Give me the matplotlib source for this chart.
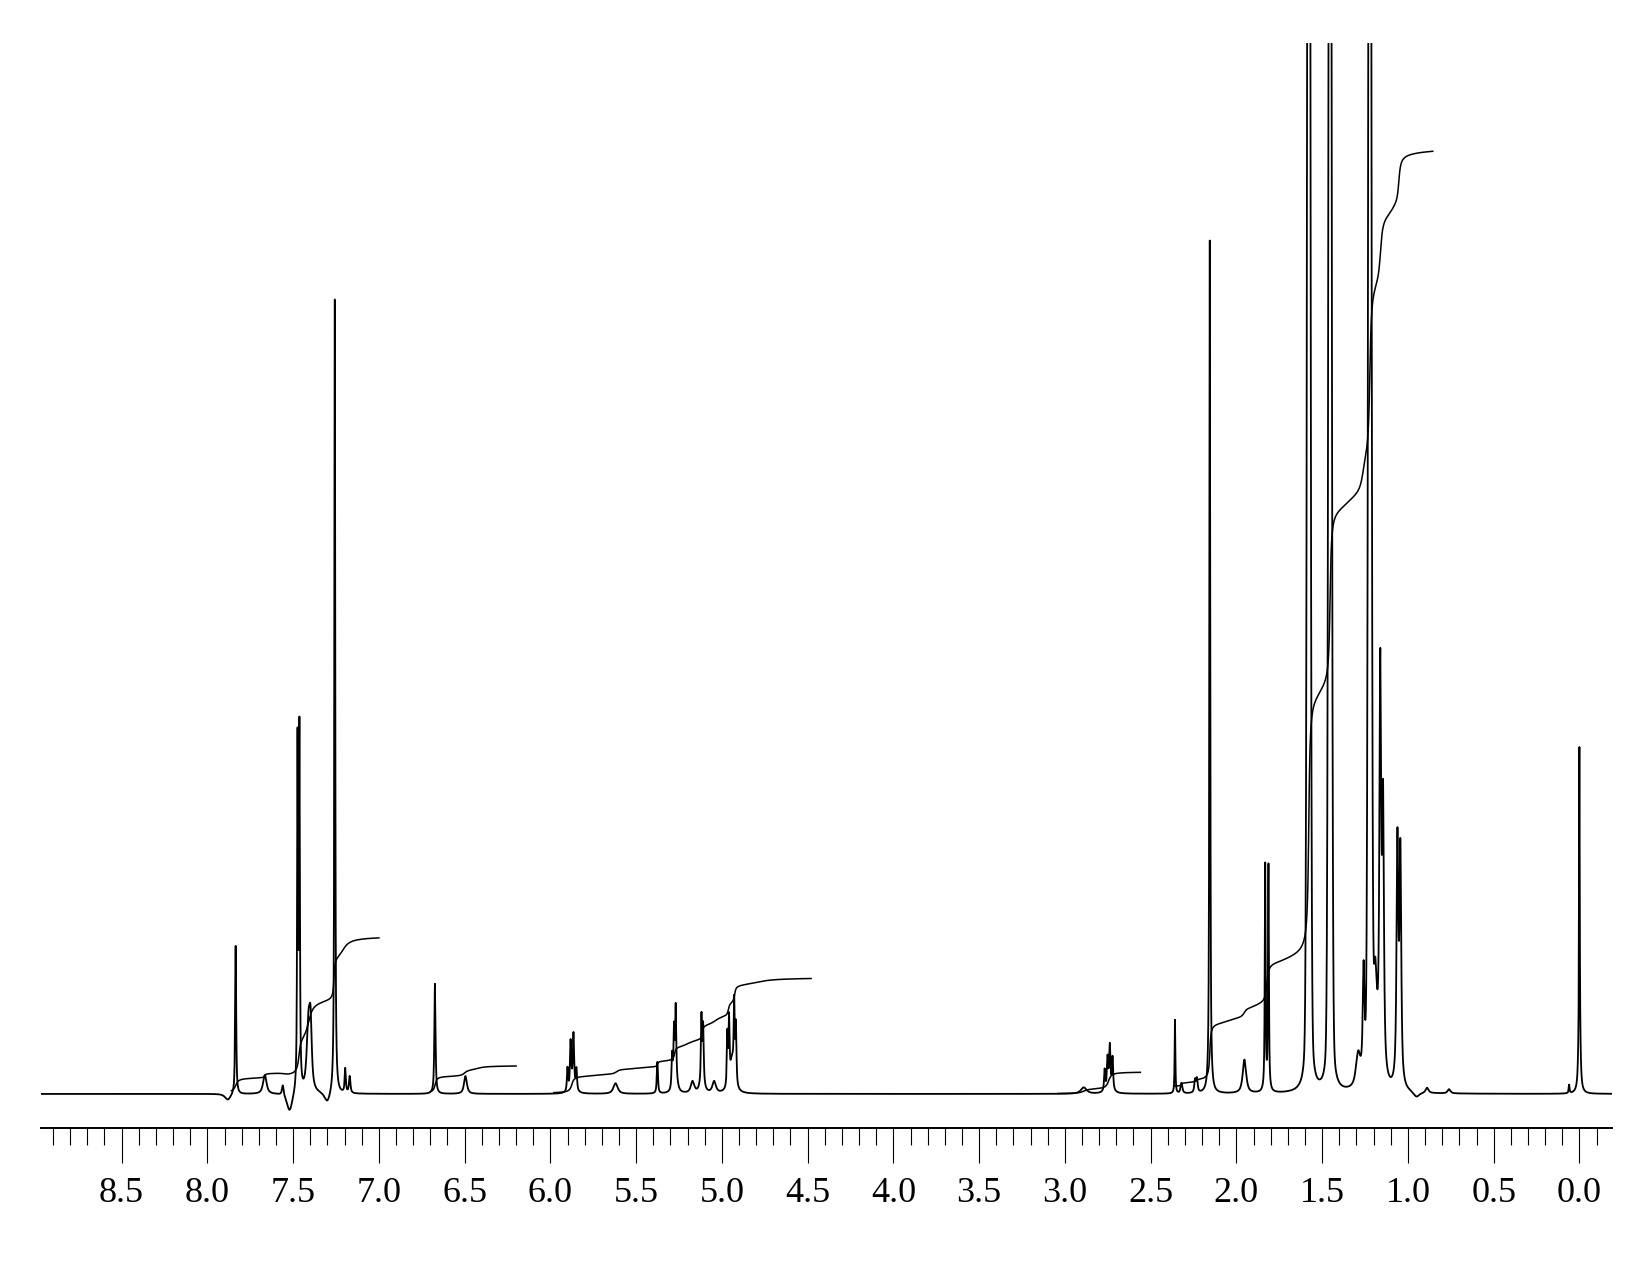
import numpy as np
import matplotlib
matplotlib.use('Agg')
import matplotlib.pyplot as plt
from matplotlib.ticker import MultipleLocator, FormatStrFormatter

# peaks: centre (ppm), height (100 = top of frame),
# half width at half height (ppm), lorentzian share of the line shape
peak_ppm = [7.88, 7.835, 7.665, 7.56, 7.52, 7.474, 7.463, 7.41, 7.398, 7.30, 7.257, 7.196, 7.17,
            6.673, 6.495,
            5.90, 5.882, 5.865, 5.848, 5.87, 5.62, 5.376, 5.29, 5.279, 5.269, 5.27, 5.171,
            5.119, 5.109, 5.115, 5.045, 4.968, 4.958, 4.928, 4.918, 4.94,
            2.89, 2.768, 2.751, 2.738, 2.722, 2.74, 2.358, 2.32, 2.241, 2.23, 2.155, 1.953,
            1.832, 1.813, 1.578, 1.454, 1.29, 1.258, 1.222, 1.19, 1.161, 1.145, 1.061, 1.044,
            0.95, 0.888, 0.76, 0.06, 0.0, 0.0]
peak_height = [-0.6, 14.2, 1.8, 1.0, -1.8, 33.0, 34.0, 6.5, 5.0, -1.0, 76.0, 2.3, 1.6,
               10.5, 1.7,
               2.2, 4.3, 4.7, 2.0, 1.0, 1.0, 3.0, 3.2, 5.0, 6.6, 1.5, 1.1,
               5.8, 5.0, 1.6, 1.1, 5.0, 6.0, 7.0, 5.5, 3.0,
               0.6, 2.0, 2.8, 3.8, 3.0, 0.7, 7.0, 1.0, 1.2, 1.3, 81.5, 3.2,
               21.5, 21.5, 220.0, 200.0, 3.0, 10.0, 200.0, 9.0, 38.0, 25.0, 23.0, 22.0,
               -0.5, 0.5, 0.4, 0.8, 25.0, 8.0]
peak_hwhm = [0.02, 0.0035, 0.012, 0.006, 0.02, 0.003, 0.003, 0.012, 0.008, 0.02, 0.003, 0.004, 0.005,
             0.004, 0.01,
             0.004, 0.004, 0.004, 0.004, 0.015, 0.015, 0.004, 0.004, 0.0035, 0.0035, 0.012, 0.012,
             0.0035, 0.0035, 0.012, 0.012, 0.0035, 0.0035, 0.0035, 0.0035, 0.015,
             0.02, 0.004, 0.004, 0.004, 0.004, 0.02, 0.0025, 0.006, 0.005, 0.005, 0.003, 0.012,
             0.003, 0.003, 0.009, 0.009, 0.015, 0.006, 0.009, 0.012, 0.006, 0.006, 0.006, 0.006,
             0.02, 0.01, 0.01, 0.003, 0.002, 0.006]
peak_lorentz = [0.8] * 50 + [0.15, 0.15, 0.8, 0.8, 0.15] + [0.8] * 11

# integral regions and the steps drawn in them
integral_from = [7.86, 6.70, 5.98, 3.04, 2.365]
integral_to = [7.00, 6.20, 4.48, 2.56, 0.855]
integral_base = [0.0, 0.05, 0.0, 0.0, 0.4]
step_region = [0, 0, 0, 0, 0, 0, 0,
               1, 1, 1,
               2, 2, 2, 2, 2, 2, 2, 2, 2, 2, 2, 2,
               3, 3,
               4, 4, 4, 4, 4, 4, 4, 4, 4, 4, 4, 4, 4, 4, 4, 4, 4]
step_ppm = [7.835, 7.665, 7.55, 7.466, 7.41, 7.262, 7.21,
            6.672, 6.50, 6.43,
            5.875, 5.75, 5.615, 5.50, 5.376, 5.276, 5.20, 5.114, 5.04, 4.962, 4.926, 4.80,
            2.89, 2.745,
            2.32, 2.24, 2.155, 2.05, 1.955, 1.88, 1.822, 1.70, 1.578, 1.50, 1.454, 1.35, 1.262,
            1.222, 1.16, 1.09, 1.053]
step_rise = [1.4, 0.4, -0.45, 3.5, 4.0, 4.0, 2.2,
             1.6, 0.6, 0.45,
             1.6, 0.2, 0.5, 0.15, 0.55, 1.3, 0.8, 1.4, 0.9, 1.3, 1.7, 0.7,
             0.45, 1.65,
             0.3, 0.2, 5.4, 0.6, 0.9, 0.4, 3.9, 0.5, 25.3, 0.8, 17.2, 0.8, 3.5,
             17.5, 6.8, 0.8, 4.9]
step_width = [0.012, 0.005, 0.03, 0.008, 0.02, 0.004, 0.03,
              0.008, 0.015, 0.04,
              0.01, 0.06, 0.015, 0.05, 0.005, 0.006, 0.04, 0.005, 0.03, 0.006, 0.006, 0.08,
              0.02, 0.012,
              0.005, 0.005, 0.005, 0.06, 0.012, 0.04, 0.008, 0.06, 0.006, 0.03, 0.006, 0.04, 0.015,
              0.007, 0.01, 0.02, 0.008]


def line_shape(ppm, centre, height, hwhm, eta):
    u = (ppm - centre) / hwhm
    return height * (eta / (1 + u ** 2) + (1 - eta) * np.exp(-np.log(2) * u ** 2))


def spectrum(ppm):
    y = np.zeros_like(ppm)
    for c, h, w, e in zip(peak_ppm, peak_height, peak_hwhm, peak_lorentz):
        y += line_shape(ppm, c, h, w, e)
    return y


def integral(region):
    ppm = np.linspace(integral_from[region], integral_to[region], 1500)
    y = np.zeros_like(ppm) + integral_base[region]
    for r, c, h, w in zip(step_region, step_ppm, step_rise, step_width):
        if r == region:
            y += h * (0.5 + np.arctan((c - ppm) / w) / np.pi)
    return ppm, y


def nmr():
    fig = plt.figure(figsize=(16.5, 12.75), dpi=100)
    ax = fig.add_axes([41 / 1650, 1 - 1128 / 1275, 1571 / 1650, 1085 / 1275])

    ppm = np.arange(-0.19, 8.97, 0.0004)
    ax.plot(ppm, spectrum(ppm), c='black', linewidth=1.3)
    for i in range(len(integral_from)):
        x, y = integral(i)
        ax.plot(x, y, c='black', linewidth=1.1)

    ax.set_xlim(8.97, -0.19)
    ax.set_ylim(-3.24, 100)
    for side in ['top', 'left', 'right']:
        ax.spines[side].set_visible(False)
    ax.spines['bottom'].set_linewidth(1.4)
    ax.set_yticks([])
    ax.xaxis.set_major_locator(MultipleLocator(0.5))
    ax.xaxis.set_minor_locator(MultipleLocator(0.1))
    ax.xaxis.set_major_formatter(FormatStrFormatter('%.1f'))
    ax.tick_params(axis='x', which='major', direction='out', length=25, width=0.8, pad=10)
    ax.tick_params(axis='x', which='minor', direction='out', length=12, width=0.8)
    for label in ax.get_xticklabels():
        label.set_fontfamily('Liberation Serif')
        label.set_fontsize(26)
    fig.savefig('out.png', dpi=100, facecolor='white')


if __name__ == '__main__':
    nmr()
